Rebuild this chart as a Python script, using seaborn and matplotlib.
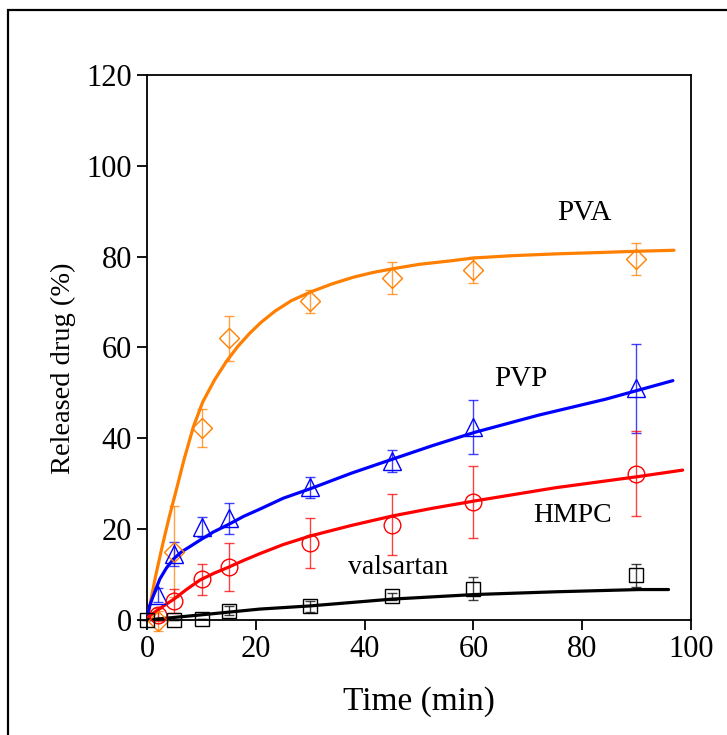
import matplotlib
matplotlib.use("Agg")
import matplotlib.pyplot as plt
import matplotlib.patches as mpatches
import seaborn as sns
import pandas as pd

# measured release data (mean and sd)
t_val = [0, 5, 10, 15, 30, 45, 60, 90]
y_val = [0.0, 0.1, 0.3, 2.0, 3.0, 5.2, 6.9, 9.8]
e_val = [0.0, 0.0, 0.0, 1.0, 1.2, 0.8, 2.6, 2.5]

t_pol = [2, 5, 10, 15, 30, 45, 60, 90]
y_pva = [-0.3, 15.0, 42.3, 62.0, 70.2, 75.3, 77.1, 79.5]
e_pva = [2.2, 10.0, 4.2, 5.0, 2.5, 3.5, 2.9, 3.5]
y_pvp = [5.5, 14.5, 20.4, 22.4, 29.2, 35.0, 42.5, 51.0]
e_pvp = [1.5, 2.7, 2.2, 3.4, 2.3, 2.4, 5.9, 9.8]
y_hmpc = [1.2, 4.2, 9.0, 11.6, 16.9, 21.0, 26.0, 32.2]
e_hmpc = [1.5, 2.7, 3.4, 5.3, 5.5, 6.7, 8.0, 9.4]

# fitted curves, points
fit_t_pva = [0, 0.7, 1.5, 2.8, 4.0, 5.2, 6.8, 8.5, 10.2, 12.4, 14.6, 16.7, 18.9, 21.0,
             23.5, 26.5, 30, 34, 38, 41.5, 45, 50, 56, 60, 67, 75, 83, 90.5, 96.9]
fit_y_pva = [0, 4.6, 9.5, 16.5, 22.5, 28.0, 35.5, 42.6, 48.0, 52.9, 57.0, 60.3, 63.2, 65.6,
             68.0, 70.3, 72.2, 74.0, 75.5, 76.5, 77.3, 78.3, 79.1, 79.7, 80.2, 80.6, 80.9, 81.2, 81.4]
fit_t_pvp = [0, 0.4, 1.1, 2.3, 3.5, 4.8, 6.3, 7.9, 9.6, 12.2, 14.9, 17.7, 20.7, 25, 30,
             37.5, 45.1, 52.5, 60.2, 72, 84.3, 96.7]
fit_y_pvp = [0.5, 3.0, 5.3, 9.0, 11.4, 13.4, 15.0, 16.2, 17.5, 19.4, 21.0, 22.8, 24.4, 26.8, 28.9,
             32.3, 35.4, 38.4, 41.3, 45.1, 48.6, 52.7]
fit_t_hmpc = [0, 1.5, 3.0, 4.8, 7.2, 9.7, 12.3, 14.9, 17.7, 20.7, 25, 30, 37.5, 45.1, 52.5,
              60.2, 75, 90.5, 98.5]
fit_y_hmpc = [0.5, 1.8, 3.1, 4.5, 6.7, 8.8, 10.3, 11.6, 13.1, 14.6, 16.6, 18.5, 20.8, 22.9, 24.6,
              26.2, 29.1, 31.6, 33.0]
fit_t_val = [0, 9.7, 20.7, 30, 45.1, 60.2, 75, 90.5, 95.9]
fit_y_val = [0.0, 1.1, 2.4, 3.1, 4.6, 5.6, 6.2, 6.7, 6.7]

ORANGE = "#ff7f00"

sns.set_theme(style="ticks")
plt.rcParams["font.family"] = ["Liberation Serif", "DejaVu Serif"]
plt.rcParams["text.color"] = "black"
plt.rcParams["axes.labelcolor"] = "black"

fig = plt.figure(figsize=(7.27, 7.35), dpi=100)
ax = fig.add_axes([0.2026, 0.1565, 0.7476, 0.7415])

# outer frame of the figure
fig.patches.append(mpatches.Rectangle((8 / 727, -0.2), 1.3, 1.2 - 10 / 735,
                                      transform=fig.transFigure, fill=False,
                                      edgecolor="black", linewidth=1.6, zorder=0))

curves = [
    (fit_t_pva, fit_y_pva, ORANGE),
    (fit_t_pvp, fit_y_pvp, "#0000ff"),
    (fit_t_hmpc, fit_y_hmpc, "#ff0000"),
    (fit_t_val, fit_y_val, "black"),
]
for tt, yy, c in curves:
    df = pd.DataFrame({"t": tt, "y": yy})
    sns.lineplot(data=df, x="t", y="y", color=c, linewidth=2.3, sort=False,
                 ax=ax, zorder=3)

points = [
    (t_pol, y_pva, e_pva, ORANGE, "D", 10.5),
    (t_pol, y_pvp, e_pvp, "#0000ff", "^", 12.5),
    (t_pol, y_hmpc, e_hmpc, "#ff0000", "o", 12.0),
    (t_val, y_val, e_val, "black", "s", 10.5),
]
for tt, yy, ee, c, m, ms in points:
    ax.errorbar(tt, yy, yerr=ee, fmt="none", ecolor=c, elinewidth=1.0,
                capsize=3.5, capthick=1.0, alpha=0.75, zorder=2, clip_on=False)
    ax.plot(tt, yy, linestyle="none", marker=m, markersize=ms,
            markerfacecolor="none", markeredgecolor=c, markeredgewidth=1.0,
            zorder=4, clip_on=False)

ax.text(80.5, 89.5, "PVA", fontsize=21, ha="center", va="center")
ax.text(68.7, 53.0, "PVP", fontsize=21, ha="center", va="center")
ax.text(78.3, 23.0, "HMPC", fontsize=20, ha="center", va="center")
ax.text(46.2, 11.6, "valsartan", fontsize=20, ha="center", va="center")

ax.set_xlim(0, 100)
ax.set_ylim(0, 120)
ax.set_xticks([0, 20, 40, 60, 80, 100])
ax.set_yticks([0, 20, 40, 60, 80, 100, 120])
ax.set_xlabel("Time (min)", fontsize=24, labelpad=16)
ax.set_ylabel("Released drug (%)", fontsize=20.5)
ax.yaxis.set_label_coords(-0.132, 0.462)
ax.tick_params(axis="both", direction="out", length=7, width=1.3,
               labelsize=22, color="black", labelcolor="black", pad=4)
ax.tick_params(top=False, right=False)
for s in ax.spines.values():
    s.set_linewidth(1.3)
    s.set_color("black")

fig.savefig("out.png", dpi=100)
